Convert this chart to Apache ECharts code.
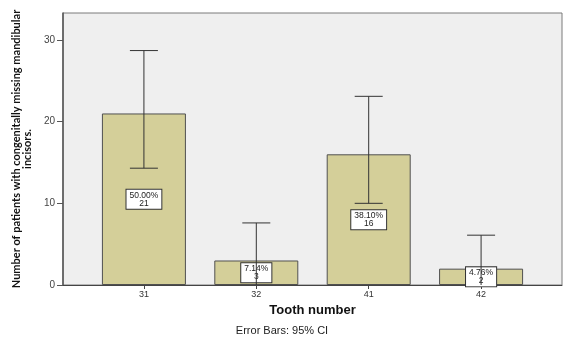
<!DOCTYPE html>
<html>
<head>
<meta charset="utf-8">
<script src="https://cdn.jsdelivr.net/npm/echarts@6/dist/echarts.min.js"></script>
<style>
  html, body { margin: 0; padding: 0; background: #fff; }
  #chart { width: 573px; height: 337px; }
</style>
</head>
<body>
<div id="chart"></div>
<script>
// tooth numbers and counts
const teeth = ['31', '32', '41', '42']
const counts = [21, 3, 16, 2]
const percents = ['50.00%', '7.14%', '38.10%', '4.76%']
// 95% CI bounds
const ciLow = [14.3, -1.6, 10.0, -2.1]
const ciHigh = [28.7, 7.6, 23.1, 6.1]
const yTicks = [0, 10, 20, 30]

const chart = echarts.init(document.getElementById('chart'))

const barData = counts.map((v, i) => [i, v])
const errData = counts.map((v, i) => [i, ciLow[i], ciHigh[i]])

const option = {
  animation: false,
  title: {
    text: 'Error Bars: 95% CI',
    left: 282,
    top: 325,
    padding: 0,
    textAlign: 'center',
    textStyle: { fontFamily: 'Liberation Sans', fontSize: 11, fontWeight: 'normal', color: '#222' }
  },
  grid: {
    left: 63,
    top: 13,
    width: 499,
    height: 272,
    outerBoundsMode: 'none',
    containLabel: false,
    show: true,
    backgroundColor: '#efefef',
    borderColor: '#7a7a7a',
    borderWidth: 1
  },
  xAxis: {
    type: 'value',
    min: -0.72,
    max: 3.72,
    name: 'Tooth number',
    nameLocation: 'middle',
    nameGap: 18,
    nameTextStyle: { fontFamily: 'Liberation Sans', fontSize: 13, fontWeight: 'bold', color: '#111' },
    splitLine: { show: false },
    axisLine: { onZero: false, lineStyle: { color: '#444' } },
    axisTick: { show: true, customValues: [0, 1, 2, 3], length: 4, lineStyle: { color: '#444' } },
    axisLabel: {
      customValues: [0, 1, 2, 3],
      formatter: v => teeth[Math.round(v)],
      fontFamily: 'Liberation Sans',
      fontSize: 9,
      color: '#333',
      margin: 5
    }
  },
  yAxis: {
    type: 'value',
    min: 0,
    max: 33.3,
    name: 'Number of patients with congenitally missing mandibular\nincisors.',
    nameLocation: 'middle',
    nameRotate: 90,
    nameGap: 29,
    nameTextStyle: {
      fontFamily: 'Lato',
      fontSize: 11,
      fontWeight: 'bold',
      color: '#111',
      lineHeight: 11,
      align: 'center'
    },
    splitLine: { show: false },
    axisLine: { show: true, onZero: false, lineStyle: { color: '#555', width: 1.5 } },
    axisTick: { show: true, customValues: yTicks, length: 6, lineStyle: { color: '#555' } },
    axisLabel: {
      customValues: yTicks,
      fontFamily: 'Liberation Sans',
      fontSize: 10,
      color: '#444',
      margin: 8
    }
  },
  series: [
    {
      type: 'bar',
      data: barData,
      barWidth: 84,
      itemStyle: { color: '#d4cf99', borderColor: '#505050', borderWidth: 1 },
      label: {
        show: true,
        position: 'inside',
        formatter: p => percents[p.dataIndex] + '\n' + counts[p.dataIndex],
        fontFamily: 'Liberation Sans',
        fontSize: 8.5,
        lineHeight: 8,
        color: '#222',
        backgroundColor: '#fff',
        borderColor: '#333',
        borderWidth: 1,
        padding: [2, 3, 1, 3]
      },
      z: 2
    },
    {
      type: 'custom',
      data: errData,
      clip: true,
      z: 5,
      renderItem: (params, api) => {
        const x = api.value(0)
        const lo = api.coord([x, api.value(1)])
        const hi = api.coord([x, api.value(2)])
        const half = 14
        const style = { stroke: '#333', lineWidth: 1 }
        return {
          type: 'group',
          children: [
            { type: 'line', shape: { x1: hi[0], y1: hi[1], x2: lo[0], y2: lo[1] }, style },
            { type: 'line', shape: { x1: hi[0] - half, y1: hi[1], x2: hi[0] + half, y2: hi[1] }, style },
            { type: 'line', shape: { x1: lo[0] - half, y1: lo[1], x2: lo[0] + half, y2: lo[1] }, style }
          ]
        }
      }
    }
  ]
}

chart.setOption(option)
</script>
</body>
</html>
